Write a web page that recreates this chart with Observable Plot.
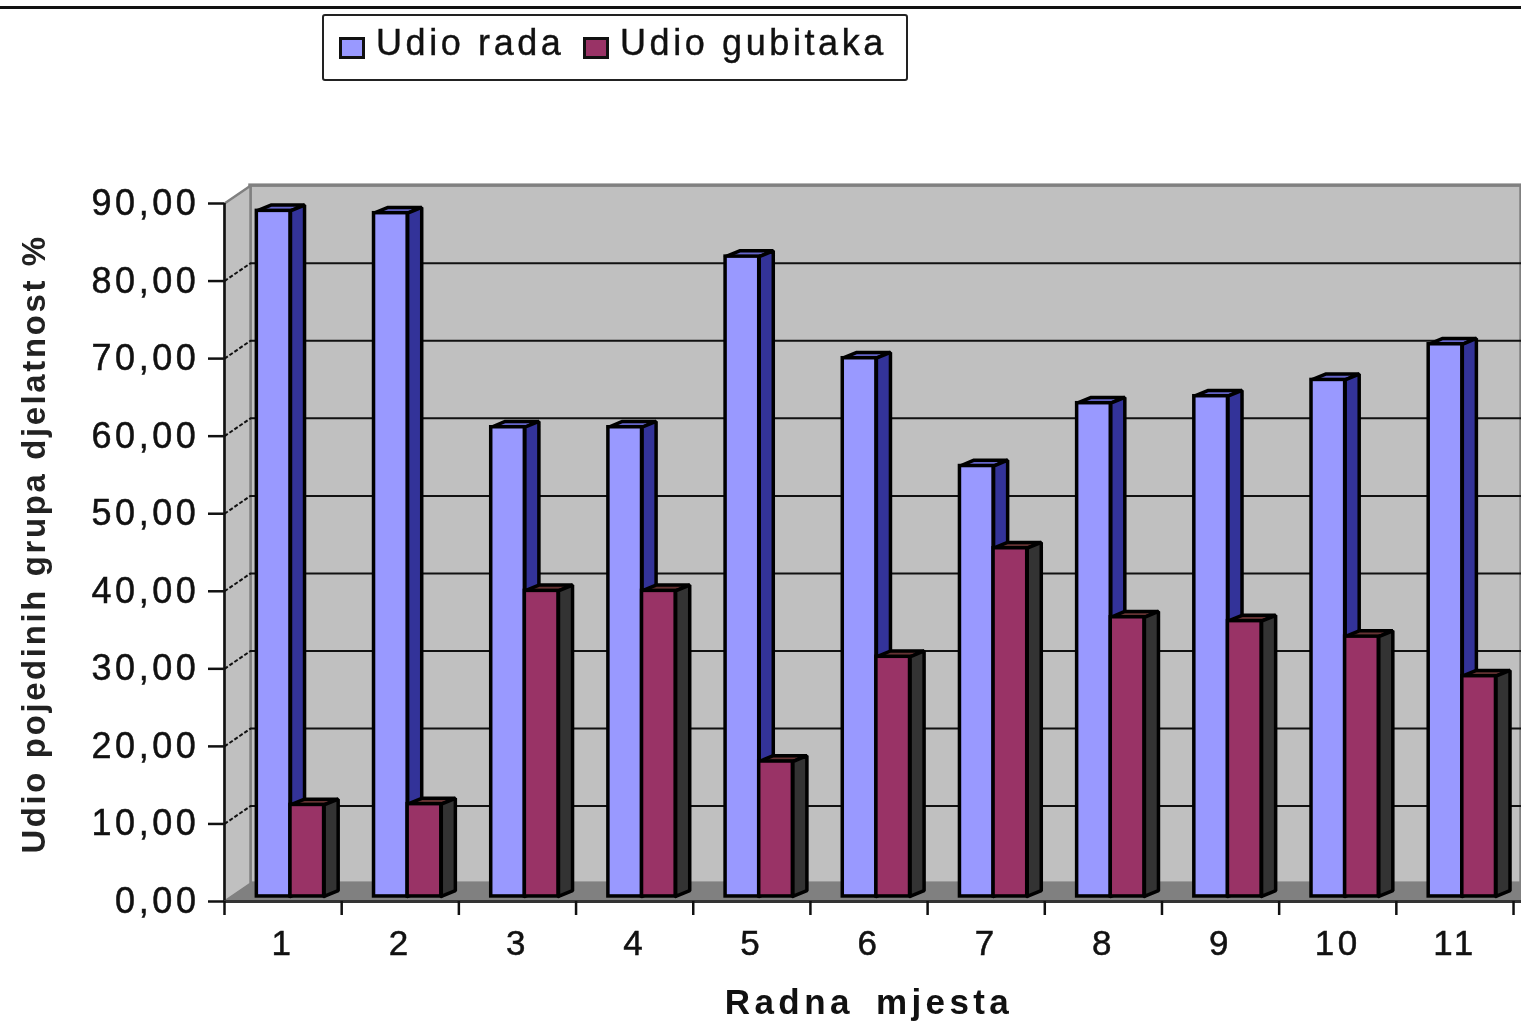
<!DOCTYPE html>
<html>
<head>
<meta charset="utf-8">
<script src="https://cdn.jsdelivr.net/npm/d3@7"></script>
<script src="https://cdn.jsdelivr.net/npm/@observablehq/plot@0.6"></script>
<style>
  html, body { margin: 0; padding: 0; background: #fff; overflow: hidden; }
  #page { position: relative; width: 1521px; height: 1022px; font-family: "Liberation Sans", Arial, sans-serif; color: #111; }
  #topline { position: absolute; left: 0; right: 0; top: 6px; height: 2.5px; background: #111; filter: blur(0.4px); }
  #legend { position: absolute; left: 322px; top: 14px; width: 582px; height: 63px; border: 2px solid #222; border-radius: 3px; box-sizing: content-box; filter: blur(0.5px); }
  #legend .sw { position: absolute; width: 20px; height: 16px; border: 3px solid #111; }
  #legend .lb { position: absolute; top: 7px; font-size: 36px; line-height: 40px; letter-spacing: 3.6px; white-space: nowrap; -webkit-text-stroke: 0.4px #111; }
  svg { display: block; filter: blur(0.55px); }
  g[aria-label="y-axis tick label"] { letter-spacing: 3.6px; stroke: #111; stroke-width: 0.5px; }
</style>
</head>
<body>
<div id="page">
  <div id="topline"></div>
  <div id="chart"></div>
  <div id="legend"></div>
</div>
<script>
const categories = ["1","2","3","4","5","6","7","8","9","10","11"];
const udioRada = [88.4, 88.1, 60.5, 60.5, 82.5, 69.4, 55.5, 63.6, 64.5, 66.6, 71.2];
const udioGubitaka = [11.8, 11.9, 39.4, 39.4, 17.4, 30.9, 44.9, 36.0, 35.5, 33.5, 28.4];
const yTicks = [0, 10, 20, 30, 40, 50, 60, 70, 80, 90];
const seriesNames = ["Udio rada", "Udio gubitaka"];
const yTitle = "Udio pojedinih grupa djelatnost %";
const xTitle = "Radna mjesta";

const colors = {
  rada: {front: "#9999ff", side: "#333399", top: "#6666cc"},
  gubitaka: {front: "#993366", side: "#333333", top: "#663333"}
};
const wallFill = "#c0c0c0", floorFill = "#808080";

// depth of the fake 3D box, in scale units
const xMax = 11.068, wallDx = 0.222, wallDy = 2.3;
const barDx = 0.12, barDy = 0.75, barBase = 0.65;
const barStart = 0.276, barW = 0.287;

const fmt = d => d.toFixed(2).replace(".", ",");

function polygon(points, id) { return points.map(([x, y]) => ({x, y, id})); }

function bars(values, slot) {
  return values.map((v, i) => ({
    x1: i + barStart + slot * barW,
    x2: i + barStart + (slot + 1) * barW,
    y1: barBase,
    y2: barBase + v
  }));
}
function sideFaces(rows) {
  return rows.flatMap((b, i) => polygon([
    [b.x2, b.y1], [b.x2 + barDx, b.y1 + barDy], [b.x2 + barDx, b.y2 + barDy], [b.x2, b.y2], [b.x2, b.y1]
  ], "s" + i));
}
function topFaces(rows) {
  return rows.flatMap((b, i) => polygon([
    [b.x1, b.y2], [b.x1 + barDx, b.y2 + barDy], [b.x2 + barDx, b.y2 + barDy], [b.x2, b.y2], [b.x1, b.y2]
  ], "t" + i));
}
const face = (rows, fill) => Plot.line(rows, {x: "x", y: "y", z: "id", fill, stroke: "#000", strokeWidth: 3.5, strokeLinejoin: "miter"});
const front = (rows, fill) => Plot.rect(rows, {x1: "x1", x2: "x2", y1: "y1", y2: "y2", fill, stroke: "#000", strokeWidth: 3.5});

const radaBars = bars(udioRada, 0);
const gubBars = bars(udioGubitaka, 1);

const leftWall = polygon([[0, 0], [0, 90], [wallDx, 90 + wallDy], [wallDx, wallDy], [0, 0]], "lw");
const floor = polygon([[0, 0], [wallDx, wallDy], [xMax, wallDy], [xMax, 0], [0, 0]], "fl");

const plot = Plot.plot({
  width: 1521,
  height: 1022,
  marginLeft: 224,
  marginRight: 0,
  marginTop: 203,
  marginBottom: 121,
  style: {background: "transparent", color: "#111", fontFamily: "'Liberation Sans', Arial, sans-serif"},
  x: {domain: [0, xMax], axis: null},
  y: {domain: [0, 90], axis: null},
  marks: [
    // walls and floor
    Plot.rect([0], {x1: wallDx, x2: xMax, y1: wallDy, y2: 90 + wallDy, fill: wallFill, stroke: floorFill, strokeWidth: 3.5}),
    Plot.line(leftWall, {x: "x", y: "y", z: "id", fill: wallFill, stroke: floorFill, strokeWidth: 2.5}),
    Plot.line(floor, {x: "x", y: "y", z: "id", fill: floorFill, stroke: floorFill, strokeWidth: 1}),
    // gridlines on back wall and side wall
    Plot.ruleY(yTicks.slice(1, -1), {y: d => d + wallDy, x1: wallDx, x2: xMax, stroke: "#111", strokeWidth: 2}),
    Plot.link(yTicks.slice(1, -1), {x1: 0, x2: wallDx, y1: d => d, y2: d => d + wallDy, stroke: "#111", strokeWidth: 2, strokeDasharray: "4 2"}),
    // bars
    face(topFaces(radaBars), colors.rada.top),
    face(sideFaces(radaBars), colors.rada.side),
    front(radaBars, colors.rada.front),
    face(topFaces(gubBars), colors.gubitaka.top),
    face(sideFaces(gubBars), colors.gubitaka.side),
    front(gubBars, colors.gubitaka.front),
    // axes
    Plot.ruleX([0], {y1: 0, y2: 90, stroke: "#111", strokeWidth: 2.5}),
    Plot.ruleY([0], {x1: 0, x2: xMax, stroke: "#333", strokeWidth: 3}),
    Plot.axisY({
      ticks: yTicks, tickSize: 16, tickPadding: 9, strokeWidth: 2.5, stroke: "#111",
      tickFormat: fmt, fontSize: 36, label: null, textStroke: "none"
    }),
    Plot.axisX({
      ticks: d3.range(0, categories.length + 1), tickSize: 14, strokeWidth: 2.5, stroke: "#111",
      tickFormat: () => "", label: null
    }),
    Plot.text(categories, {
      x: (d, i) => i + 0.5, y: 0, dy: 42, text: d => d, fontSize: 35, fill: "#111"
    }),
    Plot.text([xTitle], {
      x: [5.5], y: [0], dy: 101, text: d => d, fontSize: 35, fontWeight: "bold", fill: "#111"
    }),
    Plot.text([yTitle], {
      y: [46.1], frameAnchor: "left", textAnchor: "middle", lineAnchor: "middle", dx: -190, rotate: -90,
      text: d => d, fontSize: 33, fontWeight: "bold", fill: "#222"
    })
  ]
});

// per-label spacing to match the stretched look of the reference
d3.select(plot).selectAll("text").each(function () {
  const t = this.textContent;
  if (t === xTitle) { this.style.letterSpacing = "4.4px"; this.style.wordSpacing = "8px"; }
  else if (t === yTitle) { this.style.letterSpacing = "2.6px"; }
  else if (categories.includes(t)) { this.style.letterSpacing = "3.5px"; this.style.stroke = "#111"; this.style.strokeWidth = "0.5px"; }
});
document.getElementById("chart").appendChild(plot);

// legend
const legend = document.getElementById("legend");
const legendItems = [
  {name: seriesNames[0], color: colors.rada.front, sw: 15, swTop: 21, lb: 52},
  {name: seriesNames[1], color: colors.gubitaka.front, sw: 259, swTop: 21, lb: 296}
];
legendItems.forEach(it => {
  const s = document.createElement("div");
  s.className = "sw";
  s.style.left = it.sw + "px"; s.style.top = it.swTop + "px"; s.style.background = it.color;
  legend.appendChild(s);
  const l = document.createElement("div");
  l.className = "lb";
  l.style.left = it.lb + "px"; l.textContent = it.name;
  legend.appendChild(l);
});
</script>
</body>
</html>
